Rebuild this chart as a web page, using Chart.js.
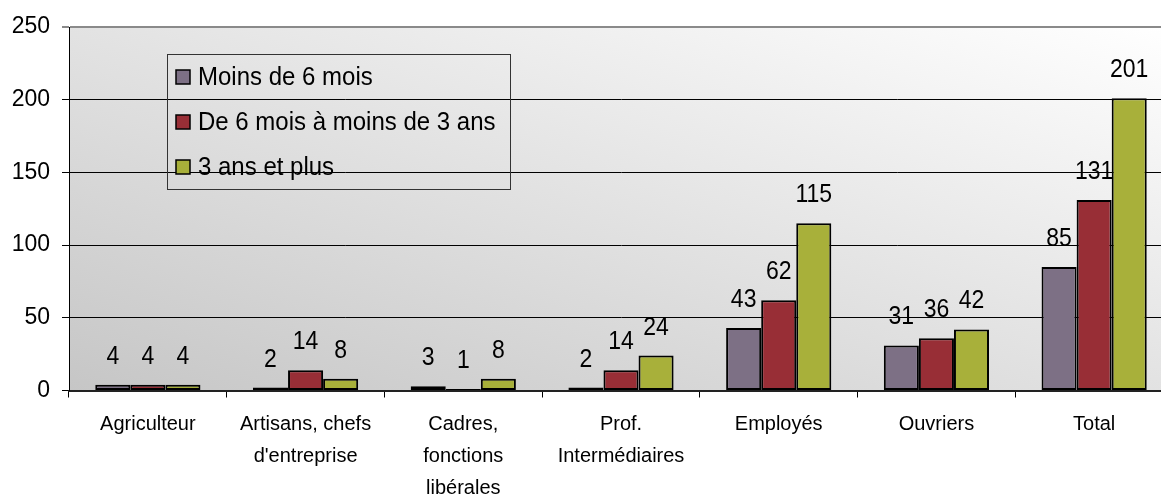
<!DOCTYPE html>
<html>
<head>
<meta charset="utf-8">
<script src="https://cdn.jsdelivr.net/npm/chart.js@4.4.0/dist/chart.umd.min.js"></script>
<style>
html,body{margin:0;padding:0;background:#fff;overflow:hidden;width:1161px;height:496px;}
#wrap{position:absolute;left:0;top:0;width:1173px;height:496px;}
</style>
</head>
<body>
<div id="wrap"><canvas id="c" width="1173" height="496"></canvas></div>
<script>
const categories = [
  "Agriculteur",
  ["Artisans, chefs", "d'entreprise"],
  ["Cadres,", "fonctions", "libérales"],
  ["Prof.", "Intermédiaires"],
  "Employés",
  "Ouvriers",
  "Total"
];
const seriesNames = ["Moins de 6 mois", "De 6 mois à moins de 3 ans", "3 ans et plus"];
const moinsDe6Mois = [4, 2, 3, 2, 43, 31, 85];
const de6MoisA3Ans = [4, 14, 1, 14, 62, 36, 131];
const troisAnsEtPlus = [4, 8, 8, 24, 115, 42, 201];
const yTicks = [0, 50, 100, 150, 200, 250];
const colors = ["#7d7085", "#982e36", "#a8b03a"];

const FONT = "'Liberation Sans', Arial, sans-serif";

// detect a narrow face for the category labels
function hasFont(name) {
  const cv = document.createElement('canvas').getContext('2d');
  const s = 'Intermédiaires abcdefghijklm';
  cv.font = '40px monospace';
  const w1 = cv.measureText(s).width;
  cv.font = "40px '" + name + "', monospace";
  const w2 = cv.measureText(s).width;
  return Math.abs(w1 - w2) > 1;
}
const narrowOK = hasFont('Liberation Sans Narrow');
const catFont = narrowOK
  ? {family: "'Liberation Sans Narrow', " + FONT, size: 24, lineHeight: 32 / 24}
  : {family: FONT, size: 20, lineHeight: 1.6};

const bgPlugin = {
  id: 'bg',
  beforeDraw(chart) {
    const {ctx, chartArea: a} = chart;
    ctx.save();
    ctx.translate(a.left, a.top);
    ctx.scale(a.right - a.left, a.bottom - a.top);
    const g = ctx.createLinearGradient(0, 1, 1, 0);
    g.addColorStop(0, '#c6c6c6');
    g.addColorStop(1, '#ffffff');
    ctx.fillStyle = g;
    ctx.fillRect(0, 0, 1, 1);
    ctx.restore();
  }
};

const labelPlugin = {
  id: 'vals',
  afterDatasetsDraw(chart) {
    const ctx = chart.ctx;
    ctx.save();
    ctx.font = "25px " + FONT;
    ctx.fillStyle = '#000';
    ctx.textAlign = 'center';
    ctx.textBaseline = 'alphabetic';
    chart.data.datasets.forEach((ds, i) => {
      const meta = chart.getDatasetMeta(i);
      meta.data.forEach((bar, j) => {
        ctx.save();
        ctx.translate(bar.x, bar.y - 21);
        ctx.scale(0.92, 1);
        ctx.fillText(String(ds.data[j]), 0, 0);
        ctx.restore();
      });
    });
    ctx.restore();
  }
};

const legendPlugin = {
  id: 'customLegend',
  afterDraw(chart) {
    const ctx = chart.ctx;
    ctx.save();
    ctx.strokeStyle = '#333';
    ctx.lineWidth = 1;
    ctx.strokeRect(167.5, 54.5, 343, 135);
    ctx.font = "25px " + FONT;
    ctx.textBaseline = 'middle';
    ctx.textAlign = 'left';
    chart.data.datasets.forEach((ds, i) => {
      const cy = 77 + i * 45;
      ctx.fillStyle = ds.backgroundColor;
      ctx.fillRect(176, cy - 7, 14, 14);
      ctx.lineWidth = 1.5;
      ctx.strokeStyle = '#000';
      ctx.strokeRect(176, cy - 7, 14, 14);
      ctx.fillStyle = '#000';
      ctx.save();
      ctx.translate(198, cy + 1);
      ctx.scale(0.96, 1);
      ctx.fillText(ds.label, 0, 0);
      ctx.restore();
    });
    ctx.restore();
  }
};

const seriesData = [moinsDe6Mois, de6MoisA3Ans, troisAnsEtPlus];

new Chart(document.getElementById('c'), {
  type: 'bar',
  data: {
    labels: categories,
    datasets: seriesNames.map((name, i) => ({
      label: name,
      data: seriesData[i],
      backgroundColor: colors[i],
      borderColor: '#000',
      borderWidth: 2,
      borderSkipped: false,
      categoryPercentage: 0.667,
      barPercentage: 1.0
    }))
  },
  options: {
    responsive: false,
    animation: false,
    devicePixelRatio: 1,
    layout: {padding: {top: 27, right: 0, left: 0, bottom: 0}},
    plugins: {legend: {display: false}, tooltip: {enabled: false}, title: {display: false}},
    scales: {
      x: {
        offset: true,
        grid: {display: true, drawOnChartArea: false, offset: true, color: '#000', tickLength: 7, lineWidth: 1},
        border: {display: true, color: '#222', width: 2},
        ticks: {
          color: '#000',
          font: catFont,
          padding: 11,
          maxRotation: 0,
          autoSkip: false
        },
        afterFit(s) { s.height = 105.5; }
      },
      y: {
        min: 0, max: 250,
        afterBuildTicks(s) { s.ticks = yTicks.map(v => ({value: v})); },
        grid: {
          color: (c) => (c.tick && c.tick.value === 250) ? '#8a8a8a' : '#000',
          lineWidth: (c) => (c.tick && c.tick.value === 250) ? 2 : 1,
          tickLength: 7,
          drawTicks: true
        },
        border: {display: true, color: '#000', width: 1},
        ticks: {
          color: '#000',
          font: {family: FONT, size: 23},
          padding: 12
        },
        afterFit(s) { s.width = 69; }
      }
    }
  },
  plugins: [bgPlugin, labelPlugin, legendPlugin]
});
</script>
</body>
</html>
